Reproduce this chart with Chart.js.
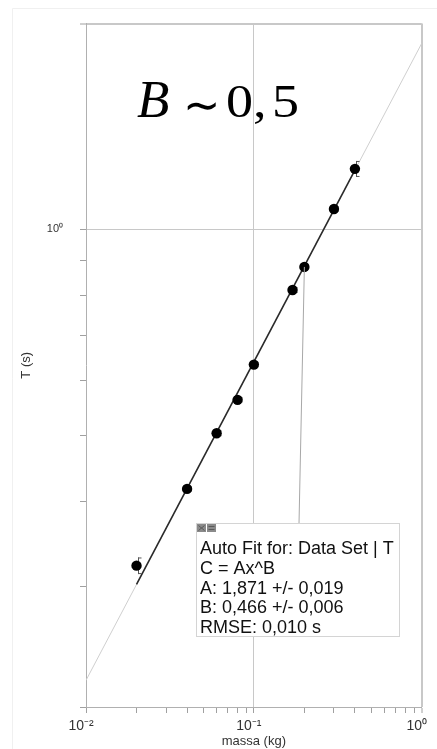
<!DOCTYPE html>
<html>
<head>
<meta charset="utf-8">
<title>Período vs massa</title>
<style>
  html, body { margin: 0; padding: 0; background: #ffffff; }
  #wrap { width: 437px; height: 749px; position: relative; }
</style>
<script src="https://cdn.jsdelivr.net/npm/chart.js@4.4.1/dist/chart.umd.min.js"></script>
</head>
<body>
<div id="wrap"><canvas id="grafico" width="437" height="749"></canvas></div>
<script>
// Medidas: massa (kg) e período T (s)
const massa = [0.02, 0.04, 0.06, 0.08, 0.10, 0.17, 0.20, 0.30, 0.40];
const periodo = [0.322, 0.417, 0.503, 0.563, 0.634, 0.815, 0.881, 1.071, 1.226];
const erroPeriodo = [0.009, 0.004, 0.005, 0.005, 0.006, 0.008, 0.008, 0.010, 0.033];

// Marcas dos eixos logarítmicos
const xTicks = [0.01, 0.02, 0.03, 0.04, 0.05, 0.06, 0.07, 0.08, 0.09,
                0.1, 0.2, 0.3, 0.4, 0.5, 0.6, 0.7, 0.8, 0.9, 1];
const yTicks = [0.2, 0.3, 0.4, 0.5, 0.6, 0.7, 0.8, 0.9, 1, 2];
const decadeLabels = { '-2': '10\u207B\u00B2', '-1': '10\u207B\u00B9', '0': '10\u2070' };

// Ajuste de potência C = A x^B
const fitA = 1.871, fitAErr = 0.019;
const fitB = 0.466, fitBErr = 0.006;
const fitRmse = 0.010;
const fitFullRange = [0.01, 1];
const fitDataRange = [0.02, 0.4];

const fmt = (v, d) => v.toFixed(d).replace('.', ',');
const fitLines = [
  'Auto Fit for: Data Set | T',
  'C = Ax^B',
  'A: ' + fmt(fitA, 3) + ' +/- ' + fmt(fitAErr, 3),
  'B: ' + fmt(fitB, 3) + ' +/- ' + fmt(fitBErr, 3),
  'RMSE: ' + fmt(fitRmse, 3) + ' s'
];

const powerLaw = x => fitA * Math.pow(x, fitB);
const isDecade = v => Math.abs(Math.log10(v) - Math.round(Math.log10(v))) < 1e-9;
const SANS = '"Liberation Sans", Arial, sans-serif';
const SERIF = '"Liberation Serif", "Times New Roman", serif';

const pontos = massa.map((m, i) => ({ x: m, y: periodo[i] }));
const curvaTotal = fitFullRange.map(x => ({ x: x, y: powerLaw(x) }));
const curvaDados = fitDataRange.map(x => ({ x: x, y: powerLaw(x) }));

// Barras de erro desenhadas sob os pontos
const errorBars = {
  id: 'errorBars',
  beforeDatasetDraw(chart, args) {
    if (args.index !== 0) return;
    const { ctx, scales: { x, y } } = chart;
    ctx.save();
    ctx.strokeStyle = '#555555';
    ctx.lineWidth = 1;
    massa.forEach((m, i) => {
      const px = Math.round(x.getPixelForValue(m)) + 1.5;
      const top = y.getPixelForValue(periodo[i] + erroPeriodo[i]);
      const bot = y.getPixelForValue(periodo[i] - erroPeriodo[i]);
      ctx.beginPath();
      ctx.moveTo(px, top); ctx.lineTo(px, bot);
      ctx.moveTo(px - 0.5, top + 0.5); ctx.lineTo(px + 3, top + 0.5);
      ctx.moveTo(px - 0.5, bot - 0.5); ctx.lineTo(px + 3, bot - 0.5);
      ctx.stroke();
    });
    ctx.restore();
  }
};

// Moldura, caixa do ajuste e anotação
const extras = {
  id: 'extras',
  beforeDraw(chart) {
    const { ctx } = chart;
    ctx.save();
    ctx.fillStyle = '#ffffff';
    ctx.fillRect(0, 0, chart.width, chart.height);
    ctx.strokeStyle = '#f0f0f0';
    ctx.lineWidth = 1;
    ctx.beginPath();
    ctx.moveTo(12.5, chart.height); ctx.lineTo(12.5, 8.5); ctx.lineTo(chart.width, 8.5);
    ctx.stroke();
    ctx.restore();
  },
  afterDatasetsDraw(chart) {
    const { ctx, scales: { x, y } } = chart;
    const box = { left: 196.5, top: 523.5, width: 203, height: 113 };
    ctx.save();

    // linha de chamada do ponto até a caixa
    const i = massa.indexOf(0.20);
    ctx.strokeStyle = '#a8a8a8';
    ctx.lineWidth = 1;
    ctx.beginPath();
    ctx.moveTo(x.getPixelForValue(massa[i]), y.getPixelForValue(periodo[i]));
    ctx.lineTo(299, box.top);
    ctx.stroke();

    // caixa
    ctx.fillStyle = '#ffffff';
    ctx.fillRect(box.left, box.top, box.width, box.height);
    ctx.strokeStyle = '#d4d4d4';
    ctx.strokeRect(box.left, box.top, box.width, box.height);

    // ícones
    ctx.fillStyle = '#8a8a8a';
    ctx.fillRect(197, 524, 9, 8);
    ctx.fillRect(207, 524, 9, 8);
    ctx.strokeStyle = '#5a5a5a';
    ctx.beginPath();
    ctx.moveTo(198.5, 525.5); ctx.lineTo(204.5, 530.5);
    ctx.moveTo(204.5, 525.5); ctx.lineTo(198.5, 530.5);
    ctx.moveTo(208.5, 526.5); ctx.lineTo(214.5, 526.5);
    ctx.moveTo(208.5, 529.5); ctx.lineTo(214.5, 529.5);
    ctx.stroke();

    ctx.fillStyle = '#111111';
    ctx.font = '18px ' + SANS;
    ctx.textBaseline = 'alphabetic';
    ctx.textAlign = 'left';
    fitLines.forEach((t, k) => ctx.fillText(t, 200, 554 + k * 19.8));

    // expoente estimado
    ctx.fillStyle = '#000000';
    ctx.font = 'italic 53px ' + SERIF;
    ctx.fillText('B', 137, 117);
    ctx.font = '47px ' + SERIF;
    ctx.save();
    ctx.translate(183, 121);
    ctx.scale(0.95, 1);
    ctx.fillText('\u223C', 0, 0);
    ctx.restore();
    ctx.save();
    ctx.translate(226, 117);
    ctx.scale(1.15, 1);
    ctx.fillText('0,', 0, 0);
    ctx.restore();
    ctx.save();
    ctx.translate(272, 117);
    ctx.scale(1.15, 1);
    ctx.fillText('5', 0, 0);
    ctx.restore();

    ctx.restore();
  }
};

new Chart(document.getElementById('grafico'), {
  type: 'scatter',
  data: {
    datasets: [
      {
        label: 'T',
        data: pontos,
        order: 0,
        pointRadius: 5.2,
        pointHoverRadius: 5.2,
        pointBackgroundColor: '#000000',
        pointBorderColor: '#000000',
        pointBorderWidth: 0,
        showLine: false
      },
      {
        label: 'Ajuste',
        data: curvaDados,
        order: 1,
        showLine: true,
        borderColor: '#2a2a2a',
        borderWidth: 1.6,
        pointRadius: 0
      },
      {
        label: 'Ajuste (extrapolado)',
        data: curvaTotal,
        order: 2,
        showLine: true,
        borderColor: '#cfcfcf',
        borderWidth: 1,
        pointRadius: 0
      }
    ]
  },
  options: {
    responsive: false,
    animation: false,
    devicePixelRatio: 1,
    layout: { padding: { left: 0, right: 15, top: 21, bottom: 0 } },
    plugins: { legend: { display: false }, tooltip: { enabled: false } },
    scales: {
      x: {
        type: 'logarithmic',
        min: 0.01,
        max: 1,
        afterBuildTicks: s => { s.ticks = xTicks.map(v => ({ value: v })); },
        afterFit: s => { s.height = 42; },
        ticks: {
          autoSkip: false,
          maxRotation: 0,
          minRotation: 0,
          padding: 5,
          labelOffset: -5,
          color: '#333333',
          font: { family: SANS, size: 14 },
          callback: v => isDecade(v) ? decadeLabels[String(Math.round(Math.log10(v)))] : ''
        },
        grid: {
          color: c => (c.tick && (Math.abs(c.tick.value - 0.1) < 1e-9 || Math.abs(c.tick.value - 1) < 1e-9)) ? '#c8c8c8' : 'rgba(0,0,0,0)',
          lineWidth: c => (c.tick && Math.abs(c.tick.value - 1) < 1e-9) ? 2 : 1,
          drawTicks: true,
          tickLength: 6,
          tickColor: '#a0a0a0',
          tickWidth: 1
        },
        border: { display: true, color: '#b0b0b0', width: 1 },
        title: {
          display: true,
          text: 'massa (kg)',
          color: '#333333',
          font: { family: SANS, size: 13 },
          padding: { top: 0, bottom: 0 }
        }
      },
      y: {
        type: 'logarithmic',
        min: 0.2,
        max: 2,
        afterBuildTicks: s => { s.ticks = yTicks.map(v => ({ value: v })); },
        afterFit: s => { s.width = 86; },
        ticks: {
          autoSkip: false,
          padding: 17,
          color: '#333333',
          font: { family: SANS, size: 11 },
          callback: v => (Math.abs(v - 1) < 1e-9) ? decadeLabels['0'] : ''
        },
        grid: {
          color: c => (c.tick && (Math.abs(c.tick.value - 1) < 1e-9 || Math.abs(c.tick.value - 2) < 1e-9)) ? '#c8c8c8' : 'rgba(0,0,0,0)',
          lineWidth: c => (c.tick && Math.abs(c.tick.value - 2) < 1e-9) ? 2 : 1,
          drawTicks: true,
          tickLength: 6,
          tickColor: '#a0a0a0',
          tickWidth: 1
        },
        border: { display: true, color: '#b0b0b0', width: 1 },
        title: {
          display: true,
          text: 'T (s)',
          color: '#333333',
          font: { family: SANS, size: 13 },
          padding: { top: 19, bottom: 0 }
        }
      }
    }
  },
  plugins: [extras, errorBars]
});
</script>
</body>
</html>
